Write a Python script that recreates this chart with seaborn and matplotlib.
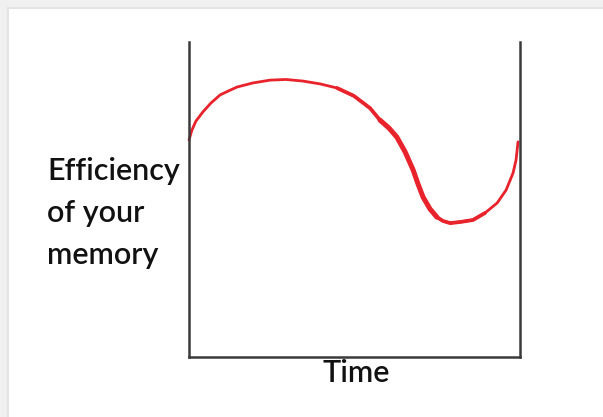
import pandas as pd
import matplotlib.pyplot as plt
import seaborn as sns
from matplotlib.patches import Rectangle

# values (time 0-10, efficiency 0-10)
time = [0.0, 0.09, 0.21, 0.42, 0.66, 0.94, 1.18, 1.45, 1.93, 2.45, 2.93, 3.44, 3.96,
        4.47, 4.98, 5.47, 5.77, 6.04, 6.28, 6.53, 6.77, 6.92, 7.07, 7.28, 7.49, 7.67,
        7.89, 8.22, 8.58, 8.94, 9.31, 9.58, 9.79, 9.88, 9.94]
efficiency = [6.89, 7.21, 7.49, 7.78, 8.06, 8.32, 8.44, 8.57, 8.70, 8.79, 8.81, 8.76, 8.67,
              8.54, 8.29, 7.90, 7.52, 7.27, 6.98, 6.51, 5.94, 5.49, 5.08, 4.70, 4.44, 4.32,
              4.25, 4.29, 4.35, 4.57, 4.89, 5.30, 5.84, 6.25, 6.83]
ylabel_lines = ["Efficiency", "of your", "memory"]
xlabel = "Time"

df = pd.DataFrame({"Time": time, "Efficiency": efficiency})

sns.set_theme(style="white")
plt.rcParams['font.family'] = ['Lato', 'DejaVu Sans']

fig = plt.figure(figsize=(6.03, 4.17), dpi=100)
fig.patch.set_facecolor('#f0f0f0')
fig.patches.append(Rectangle((8 / 603, -0.01), 1.0, (417 - 8) / 417 + 0.01,
                             transform=fig.transFigure, facecolor='white',
                             edgecolor='#e4e4e4', linewidth=1.5, zorder=-5))

ax = fig.add_axes([189 / 603, 60 / 417, 331 / 603, 315 / 417])
ax.set_facecolor('none')

red = '#e8232b'
# stroke gets heavier through the drop, as in the hand-drawn original
sns.lineplot(data=df, x="Time", y="Efficiency", color=red, linewidth=2.0,
             estimator=None, sort=True, ax=ax, clip_on=False,
             solid_capstyle='round', solid_joinstyle='round')
mid = df[(df["Time"] >= 4.4) & (df["Time"] <= 9.0)]
sns.lineplot(data=mid, x="Time", y="Efficiency", color=red, linewidth=2.7,
             estimator=None, ax=ax, clip_on=False,
             solid_capstyle='round', solid_joinstyle='round')
thick = df[(df["Time"] >= 5.7) & (df["Time"] <= 7.6)]
sns.lineplot(data=thick, x="Time", y="Efficiency", color=red, linewidth=3.6,
             estimator=None, ax=ax, clip_on=False,
             solid_capstyle='round', solid_joinstyle='round')

ax.set_xlim(0, 10)
ax.set_ylim(0, 10)
ax.set_xticks([])
ax.set_yticks([])
ax.set_xlabel("")
ax.set_ylabel("")
ax.spines['top'].set_visible(False)
for side in ['left', 'right', 'bottom']:
    ax.spines[side].set_color('#3a3a3a')
    ax.spines[side].set_linewidth(1.8)

for i, line in enumerate(ylabel_lines):
    fig.text(47 / 603, (417 - 180 - 42 * i) / 417, line, ha='left', va='baseline',
             fontsize=22, color='#111111', fontweight='semibold')
fig.text(356 / 603, (417 - 382) / 417, xlabel, ha='center', va='baseline',
         fontsize=22, color='#111111', fontweight='semibold')

fig.savefig("out.png", dpi=100, facecolor=fig.get_facecolor())
